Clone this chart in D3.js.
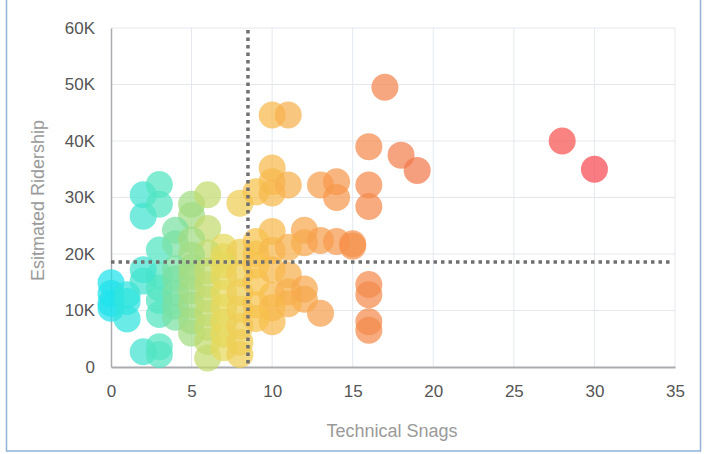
<!DOCTYPE html>
<html>
<head>
<meta charset="utf-8">
<script src="https://cdn.jsdelivr.net/npm/d3@7"></script>
<style>
  html, body { margin: 0; padding: 0; background: #fff; }
  svg { display: block; font-family: "Liberation Sans", Arial, sans-serif; }
</style>
</head>
<body>
<svg id="chart" width="705" height="454"></svg>
<script>
// Technical snags per route vs. estimated ridership
const snags = [
  // low snags, higher ridership
  2, 3, 2, 3, 5, 6, 5, 4, 6, 8, 3, 4, 7, 5, 6, 7, 8, 5,
  // low snags, lower ridership
  0, 0, 0, 0, 1, 1, 1, 2, 3, 2, 3,
  3, 3, 3, 3, 2,
  4, 4, 4, 4, 4,
  5, 5, 5, 5, 5, 5,
  6, 6, 6, 6, 6, 6, 6,
  7, 7, 7, 7, 7, 7, 7,
  8, 8, 8, 8, 8, 8,
  // more snags, higher ridership
  10, 11, 17, 16, 18, 19, 28, 30,
  10, 10, 9, 10, 11, 13, 14, 14, 16, 16,
  10, 12, 12, 13, 14, 15, 15, 9, 9, 10, 11,
  // more snags, lower ridership
  16, 16, 16, 16, 13, 12, 10, 10, 11, 11, 9, 9, 10, 9, 11, 10, 9, 12
];
const ridership = [
  30500, 32300, 26700, 28800, 28800, 30500, 26800, 24200, 24500, 29000, 20700, 21800, 21200, 22500, 20200, 19500, 20300, 19800,
  14900, 13000, 11300, 10400, 11600, 8500, 12800, 2700, 2200, 15200, 3600,
  16200, 14000, 11800, 9300, 17200,
  15600, 13000, 10800, 8800, 17400,
  16000, 13500, 11000, 8200, 6000, 17700,
  14600, 12000, 9500, 7000, 4500, 1600, 17000,
  16000, 13000, 10500, 8000, 5800, 3400, 18000,
  13200, 10200, 7200, 4400, 2200, 16500,
  44600, 44600, 49500, 39000, 37500, 34800, 40000, 35000,
  35200, 32800, 31000, 30800, 32200, 32200, 32800, 30000, 32200, 28400,
  24000, 24200, 22000, 22400, 22200, 21800, 21400, 22200, 20000, 20600, 21200,
  14600, 12800, 8000, 6500, 9500, 12000, 8000, 12700, 16300, 13300, 15000, 11000, 17200, 18000, 11200, 10500, 8600, 13800
];

const xTicks = [0, 5, 10, 15, 20, 25, 30, 35];
const yTicks = [0, 10000, 20000, 30000, 40000, 50000, 60000];
const yTickLabels = ["0", "10K", "20K", "30K", "40K", "50K", "60K"];

// average reference lines
const avgSnags = 8.5;
const avgRidership = 18600;

// colour stops along the snag count
const colorStops = [0, 3, 5, 7, 9, 12, 16, 19, 30];
const colorValues = ["#1fe2ec", "#52e4c2", "#a2dd82", "#e6d85c", "#f7c24c", "#f7a74d", "#f48a4c", "#f27a4e", "#f64a52"];

const svg = d3.select("#chart");
const W = 705, H = 454;
const m = { left: 111, right: 30, top: 28, bottom: 87 };
const iw = W - m.left - m.right;
const ih = H - m.top - m.bottom;

// outer frame
svg.append("rect")
  .attr("x", 6.5).attr("y", -4)
  .attr("width", 694).attr("height", 455)
  .attr("fill", "none")
  .attr("stroke", "#8fb2d6")
  .attr("stroke-width", 1.5);

const x = d3.scaleLinear().domain([0, 35]).range([0, iw]);
const y = d3.scaleLinear().domain([0, 60000]).range([ih, 0]);
const color = d3.scaleLinear().domain(colorStops).range(colorValues).clamp(true);

const g = svg.append("g").attr("transform", `translate(${m.left},${m.top})`);

// grid
g.append("g").selectAll("line").data(xTicks.slice(1)).join("line")
  .attr("x1", d => x(d)).attr("x2", d => x(d))
  .attr("y1", 0).attr("y2", ih)
  .attr("stroke", "#e4e8ee").attr("stroke-width", 1);
g.append("g").selectAll("line").data(yTicks.slice(1)).join("line")
  .attr("x1", 0).attr("x2", iw)
  .attr("y1", d => y(d)).attr("y2", d => y(d))
  .attr("stroke", "#e4e8ee").attr("stroke-width", 1);

// axes
const xAxis = g.append("g")
  .attr("transform", `translate(0,${ih})`)
  .call(d3.axisBottom(x).tickValues(xTicks).tickSize(0).tickPadding(18));
xAxis.select(".domain").attr("stroke", "#a9abae").attr("stroke-width", 2);

const yAxis = g.append("g")
  .call(d3.axisLeft(y).tickValues(yTicks).tickSize(0).tickPadding(16)
    .tickFormat((d, i) => yTickLabels[i]));
yAxis.select(".domain").attr("stroke", "#a9abae").attr("stroke-width", 1.5);

svg.selectAll(".tick text")
  .attr("fill", "#555")
  .style("font-size", "17px")
  .style("font-family", "'Liberation Sans', Arial, sans-serif");

// bubbles
const pts = snags.map((s, i) => ({ s, r: ridership[i] }));
g.append("g").selectAll("circle").data(pts).join("circle")
  .attr("cx", d => x(d.s))
  .attr("cy", d => y(d.r))
  .attr("r", 13.5)
  .attr("fill", d => color(d.s))
  .attr("fill-opacity", 0.72);

// average lines
g.append("line")
  .attr("x1", x(avgSnags)).attr("x2", x(avgSnags))
  .attr("y1", 2).attr("y2", ih - 2)
  .attr("stroke", "#707070").attr("stroke-width", 3.5)
  .attr("stroke-dasharray", "3.5 4");
g.append("line")
  .attr("x1", 0).attr("x2", iw - 2)
  .attr("y1", y(avgRidership)).attr("y2", y(avgRidership))
  .attr("stroke", "#707070").attr("stroke-width", 3.5)
  .attr("stroke-dasharray", "3.5 4");

// axis titles
svg.append("text")
  .attr("x", m.left + iw / 2 - 1).attr("y", 437)
  .attr("text-anchor", "middle")
  .attr("fill", "#9a9a9a")
  .style("font-size", "18px")
  .text("Technical Snags");
svg.append("text")
  .attr("transform", `translate(44,${m.top + ih / 2 + 3}) rotate(-90)`)
  .attr("text-anchor", "middle")
  .attr("fill", "#9a9a9a")
  .style("font-size", "18px")
  .text("Esitmated Ridership");
</script>
</body>
</html>
